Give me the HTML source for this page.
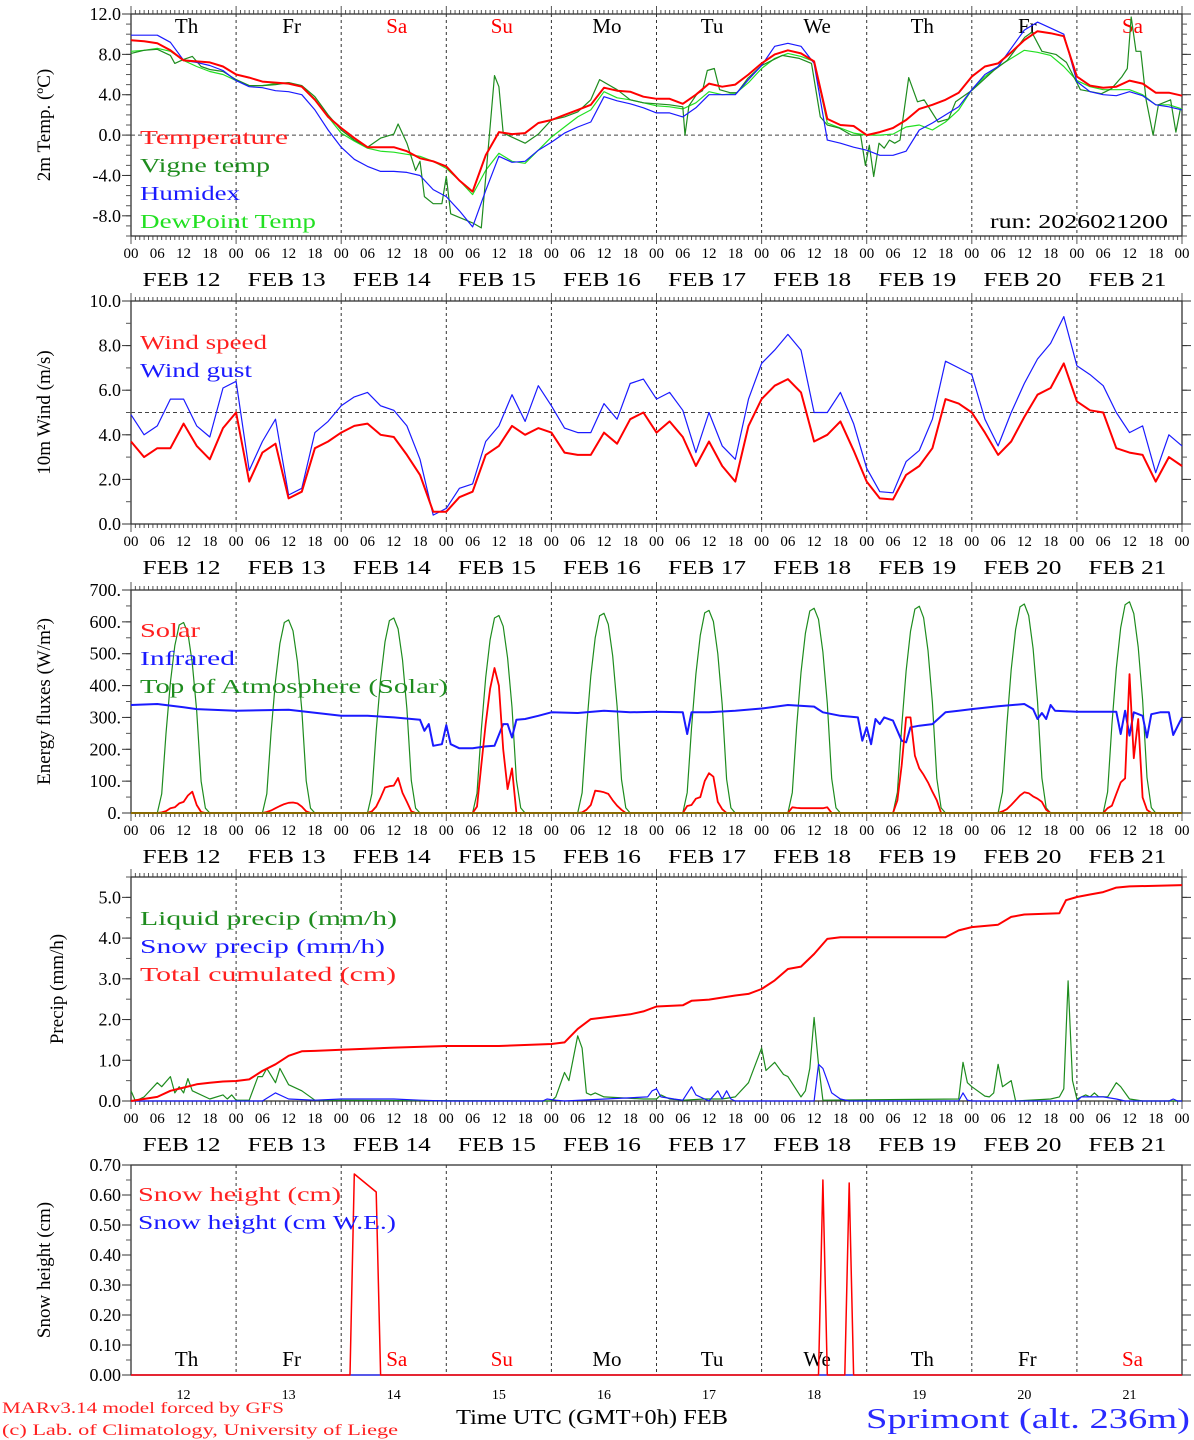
<!DOCTYPE html>
<html><head><meta charset="utf-8">
<style>
html,body{margin:0;padding:0;background:#fff;}
svg{display:block;font-family:"Liberation Serif","DejaVu Serif",serif;}
</style></head>
<body>
<svg id="chart" width="1194" height="1440" viewBox="0 0 1194 1440" xmlns="http://www.w3.org/2000/svg"></svg>
<script>
// ---------- DATA ----------
const dayNames = ["Th","Fr","Sa","Su","Mo","Tu","We","Th","Fr","Sa"];
const dayColors = ["#000","#000","#f00","#f00","#000","#000","#000","#000","#000","#f00"];
const dateLabels = ["FEB 12","FEB 13","FEB 14","FEB 15","FEB 16","FEB 17","FEB 18","FEB 19","FEB 20","FEB 21"];
const dayNums = ["12","13","14","15","16","17","18","19","20","21"];
const hourLabels = ["00","06","12","18"];

// Temperature panel (3-hourly from Feb 12 00 UTC)
const tempVals = [9.4,9.3,9.1,8.4,7.4,7.3,7.2,6.8, 6.0,5.7,5.3,5.2,5.1,4.8,3.5,1.8, 0.7,-0.3,-1.2,-1.2,-1.2,-1.6,-2.3,-2.6, -3.1,-4.5,-5.6,-2.0,0.3,0.1,0.2,1.2, 1.5,2.0,2.5,3.0,4.7,4.4,4.3,3.8, 3.6,3.6,3.1,4.0,5.1,4.8,5.0,6.0, 7.1,8.0,8.4,8.1,7.3,1.6,1.0,0.9, 0.0,0.3,0.7,1.5,2.6,3.0,3.5,4.2, 5.8,6.8,7.1,8.2,9.4,10.3,10.1,9.8, 5.8,4.9,4.7,4.8,5.4,5.1,4.2,4.2,3.9];
const humidexVals = [9.9,9.9,9.9,9.2,7.4,7.2,6.9,6.4, 5.4,4.8,4.7,4.4,4.3,4.0,2.5,0.5, -1.2,-2.4,-3.1,-3.6,-3.6,-3.7,-4.0,-5.4, -6.1,-7.5,-9.1,-5.5,-2.1,-2.7,-2.6,-1.5, -0.7,0.2,0.8,1.3,3.8,3.4,3.1,2.7, 2.2,2.2,1.8,2.7,4.0,4.0,4.0,5.5, 6.9,8.8,9.1,8.8,7.1,-0.5,-0.8,-1.2, -1.5,-2.0,-2.0,-1.6,0.5,1.2,2.0,2.8, 4.5,6.0,6.8,8.6,10.4,11.2,10.6,10.0, 5.3,4.3,4.0,3.9,4.3,3.9,3.0,2.8,2.5];
const dewVals = [8.3,8.4,8.6,8.3,7.4,6.8,6.3,6.0, 5.4,4.9,4.9,5.1,5.2,4.8,3.6,1.8, 0.2,-0.6,-1.3,-1.6,-1.7,-1.9,-2.1,-2.6, -3.3,-4.5,-5.9,-3.5,-1.8,-2.6,-2.8,-1.5, -0.2,0.8,1.8,2.5,4.3,3.7,3.5,3.2, 2.9,2.8,2.6,3.2,4.3,4.0,4.1,5.2, 6.6,7.6,8.1,7.8,7.3,1.2,0.7,0.2, 0.0,0.0,0.1,0.8,1.0,0.5,1.3,2.5, 4.5,5.8,6.8,7.6,8.4,8.2,7.9,6.8, 5.4,4.8,4.5,4.5,4.5,4.0,3.0,3.0,2.6];
const vigneHours = [0,3,6,9,10,12,14,16,18,21,24,27,30,33,36,39,42,45,48,51,54,57,60,61,63,65,66,67,69,71,72,73,78,80,82,83,84,85,90,93,96,99,102,105,107,111,114,117,120,123,126,126.5,127.4,129.3,130.5,131.6,133.2,134.4,136.8,138.4,140.8,144,148.7,152.6,155.4,157.4,159,161.7,164.5,166.6,167.7,168.6,169.6,170.8,172,173.2,174.4,175.6,177.6,179.6,181.1,184.3,186.7,188.3,192.2,197,200.1,204.1,205.7,208,211.2,213.6,216.8,221.6,223.9,226.3,227.5,228.4,229.5,230.6,231.8,233.4,234.6,237.4,238.6,239.6];
const vigneVals = [8.1,8.4,8.5,7.9,7.1,7.5,7.8,6.8,6.5,6.3,5.5,4.9,4.9,5.0,5.2,4.9,3.8,2.0,0.5,-0.5,-1.2,-0.3,0.1,1.1,-0.8,-3.5,-2.6,-6.1,-6.8,-6.8,-4.1,-7.8,-8.7,-9.2,0.8,5.9,4.8,0.2,-0.8,0.1,1.5,1.8,2.3,3.5,5.5,4.5,3.5,3.2,3.1,3.0,2.8,0.0,2.9,4.1,4.4,6.4,6.6,4.5,4.2,4.2,5.6,6.9,7.9,7.6,7.1,1.8,1.0,0.7,0.0,0.0,-3.0,-1.0,-4.1,-0.8,-1.3,-0.5,-0.8,-0.5,5.7,3.3,3.5,1.3,1.6,3.3,4.5,6.4,7.4,9.7,10.2,8.3,8.0,7.2,4.5,4.1,4.6,5.8,6.6,11.7,8.3,8.3,3.5,0.0,3.0,3.5,0.3,2.5];

// Wind panel (3-hourly)
const windSpeed = [3.7,3.0,3.4,3.4,4.5,3.5,2.9,4.3, 5.0,1.9,3.2,3.6,1.15,1.45,3.4,3.7, 4.1,4.4,4.5,4.0,3.9,3.1,2.2,0.55, 0.55,1.2,1.45,3.1,3.5,4.4,4.0,4.3, 4.1,3.2,3.1,3.1,4.1,3.6,4.7,5.0, 4.1,4.6,3.9,2.6,3.7,2.6,1.9,4.4, 5.6,6.2,6.5,5.9,3.7,4.0,4.6,3.3, 1.9,1.15,1.1,2.2,2.6,3.4,5.6,5.4, 5.0,4.1,3.1,3.7,4.8,5.8,6.1,7.2, 5.5,5.1,5.0,3.4,3.2,3.1,1.9,3.0,2.6];
const windGust = [4.9,4.0,4.4,5.6,5.6,4.4,3.9,6.1, 6.4,2.4,3.7,4.7,1.3,1.6,4.1,4.6, 5.3,5.7,5.9,5.3,5.1,4.4,2.9,0.4, 0.7,1.6,1.8,3.7,4.4,5.8,4.6,6.2, 5.3,4.3,4.1,4.1,5.4,4.7,6.3,6.5, 5.6,5.9,5.1,3.2,5.0,3.5,2.9,5.6, 7.2,7.8,8.5,7.8,5.0,5.0,5.9,4.5, 2.5,1.45,1.4,2.8,3.3,4.7,7.3,7.0, 6.7,4.7,3.5,5.0,6.3,7.4,8.1,9.3, 7.1,6.7,6.2,5.0,4.1,4.4,2.3,4.0,3.5];

// Energy panel: daily values at hours 06..18
const toaByDay = [
 [0,60,250,410,525,590,598,565,470,320,100,15,0],
 [0,60,255,415,532,598,606,572,476,324,101,15,0],
 [0,61,257,420,537,604,612,578,481,327,102,15,0],
 [0,62,260,425,544,612,620,586,487,332,104,16,0],
 [0,63,262,430,550,619,627,592,493,335,105,16,0],
 [0,64,266,436,558,628,636,601,500,340,106,16,0],
 [0,64,269,441,564,634,643,608,505,344,108,16,0],
 [0,65,271,445,570,640,649,613,510,347,109,16,0],
 [0,66,274,450,576,647,656,620,516,351,110,16,0],
 [0,66,277,454,582,654,663,626,521,355,111,17,0]];
const solarByDay = [
 [0,2,6,15,18,30,35,55,67,25,3,0,0],
 [0,3,8,15,22,28,32,33,30,20,5,0,0],
 [0,5,20,48,80,84,86,110,63,35,5,0,0],
 [0,20,150,280,390,455,400,200,75,140,0,0,0],
 [0,2,10,25,70,68,65,60,40,23,10,0,0],
 [0,22,25,45,50,100,125,114,35,12,0,0,0],
 [0,18,16,15,15,15,15,15,15,18,0,0,0],
 [0,40,150,300,300,180,140,120,96,67,40,0,0],
 [0,5,12,25,40,55,65,62,52,45,35,10,0],
 [0,15,23,60,96,109,436,172,295,49,10,0,0]];
const irHours = [0,6,12,15,24,36,48,54,60,66,67,68,69,71,72,73,75,78,81,83,85,86,87,88,90,93,96,102,108,114,120,126,127,128,132,138,144,150,156,158,162,166,167,168,169,170,171,172,174,176,177,178,180,183,186,189,192,198,204,206,207,208,209,210,211,216,222,225,226,227,228,229,231,232,233,235,237,238,240];
const irVals = [339,342,332,326,321,324,305,305,300,293,258,279,211,216,276,216,203,203,209,211,279,279,237,293,295,305,316,314,321,316,318,316,248,316,316,321,328,339,334,316,305,300,227,269,216,295,279,300,290,227,222,269,274,279,316,321,326,335,342,326,295,314,295,339,321,318,318,318,248,321,243,316,305,237,310,316,316,245,300];

// Precip panel
const liqHours = [0,1,3,6,7,9,10,11,12,13,14,18,21,22,23,24,27,29,30,31,33,34,36,39,42,96,97,99,100,102,103,104,105,106,108,117,120,121,123,126,131,135,138,141,144,145,147,149,150,153,154,155,156,157,158,189,190,191,192,195,196,197,198,199,201,202,210,212,213,214,215,216,218,219,220,221,223,225,226,228,231,240];
const liqVals = [0.25,0,0.1,0.45,0.35,0.6,0.2,0.35,0.2,0.55,0.25,0.05,0.15,0.05,0.15,0.02,0.02,0.6,0.6,0.8,0.45,0.8,0.4,0.25,0.02,0,0.1,0.7,0.5,1.6,1.3,0.2,0.15,0.2,0.1,0.05,0.05,0.15,0.05,0.02,0.05,0.05,0.1,0.45,1.3,0.75,0.95,0.65,0.6,0.1,0.25,0.8,2.05,0.9,0.02,0.05,0.95,0.45,0.35,0.12,0.1,0.2,0.9,0.35,0.5,0,0.05,0.1,0.3,2.95,0.5,0.05,0.15,0.1,0.2,0.1,0.1,0.45,0.35,0.05,0,0];
const snowPrHours = [0,30,33,36,42,48,60,66,72,94,95,97,99,118,119,120,121,124,126,128,129,132,134,135,136,137,138,156,157,158,159,160,162,164,189,190,191,192,216,217,219,222,225,227,237,238,239,240];
const snowPrVals = [0,0,0.2,0.05,0.02,0.05,0.05,0.02,0,0,0.05,0.02,0,0.1,0.25,0.3,0.1,0.05,0.02,0.35,0.15,0,0.25,0.05,0.25,0.05,0,0,0.9,0.8,0.5,0.2,0.05,0,0,0.2,0.02,0,0,0.1,0.1,0.1,0.05,0,0,0.05,0,0];
const cumHours = [0,6,9,12,15,18,21,24,27,30,33,36,39,42,48,60,72,84,96,99,102,105,108,114,117,120,126,128,132,138,141,144,147,150,153,156,159,162,186,189,192,198,201,204,212,213.5,216,219,222,225,228,240];
const cumVals = [0,0.1,0.25,0.33,0.41,0.45,0.48,0.49,0.53,0.74,0.9,1.11,1.22,1.23,1.26,1.31,1.35,1.35,1.40,1.44,1.77,2.01,2.05,2.13,2.2,2.32,2.35,2.46,2.49,2.59,2.63,2.75,2.96,3.24,3.30,3.61,3.98,4.02,4.02,4.19,4.27,4.33,4.52,4.58,4.61,4.93,5.01,5.07,5.13,5.24,5.27,5.3];

// Snow height panel
const snowHtHours = [0,50,51,56,57,157,158,159,163,164,165,240];
const snowHtVals = [0,0,0.67,0.61,0,0,0.65,0,0,0.64,0,0];
const snowWeHours = [0,240];
const snowWeVals = [0,0];

const t1Labels = ["12.0","8.0","4.0","0.0","-4.0","-8.0"];
const t1Vals = [12,8,4,0,-4,-8];
const t2Labels = ["0.0","2.0","4.0","6.0","8.0","10.0"];
const t2Vals = [0,2,4,6,8,10];
const t3Labels = ["0.","100.","200.","300.","400.","500.","600.","700."];
const t3Vals = [0,100,200,300,400,500,600,700];
const t4Labels = ["0.0","1.0","2.0","3.0","4.0","5.0"];
const t4Vals = [0,1,2,3,4,5];
const t5Labels = ["0.00","0.10","0.20","0.30","0.40","0.50","0.60","0.70"];
const t5Vals = [0,0.1,0.2,0.3,0.4,0.5,0.6,0.7];

// ---------- DRAWING ----------
const svg = document.getElementById('chart');
const NS = "http://www.w3.org/2000/svg";
const X0 = 131, X1 = 1182;
function xh(h){ return X0 + h*(X1-X0)/240; }
function mk(tag, attrs, parent){
  const e = document.createElementNS(NS, tag);
  for (const k in attrs) e.setAttribute(k, attrs[k]);
  (parent||svg).appendChild(e);
  return e;
}
function txt(s, x, y, size, color, anchor, parent, tl){
  const t = mk('text', {x:x, y:y, 'font-size':size, fill:color||'#000', 'text-anchor':anchor||'start'}, parent);
  if (tl) { t.setAttribute('textLength', tl); t.setAttribute('lengthAdjust','spacingAndGlyphs'); }
  t.textContent = s;
  return t;
}
function panel(name, top, bot, vmin, vmax){
  const g = mk('g', {});
  
  
  const ys = v => bot - (v - vmin) * (bot - top) / (vmax - vmin);
  return {g, ys, top, bot};
}
function frame(p, hourTicks){
  const g = p.g;
  // day dashed lines
  for (let d=1; d<10; d++){
    const l = mk('line', {x1:xh(d*24), x2:xh(d*24), y1:p.top, y2:p.bot, stroke:'#333', 'stroke-width':1, 'stroke-dasharray':'3,3'}, g);
    
    
  }
  if (hourTicks){
    for (let h=0; h<=240; h++){
      const len = (h%24===0) ? 8 : 4;
      mk('line', {x1:xh(h), x2:xh(h), y1:p.top-len, y2:p.top, stroke:'#555', 'stroke-width':1}, g);
      mk('line', {x1:xh(h), x2:xh(h), y1:p.bot, y2:p.bot+len, stroke:'#555', 'stroke-width':1}, g);
    }
  }
  const r = mk('rect', {x:X0, y:p.top, width:X1-X0, height:p.bot-p.top, fill:'none', stroke:'#333', 'stroke-width':1.3}, g);
  
  
}
function yaxis(p, vals, labels, minorStep, vmin, vmax, title, titleX, size){
  const g = p.g;
  for (let v=vmin; v<=vmax+1e-9; v+=minorStep){
    const y = p.ys(v);
    mk('line', {x1:X0-5, x2:X0, y1:y, y2:y, stroke:'#555'}, g);
    mk('line', {x1:X1, x2:X1+5, y1:y, y2:y, stroke:'#555'}, g);
  }
  vals.forEach((v,i)=>{
    const y = p.ys(v);
    mk('line', {x1:X0-9, x2:X0, y1:y, y2:y, stroke:'#333'}, g);
    mk('line', {x1:X1, x2:X1+9, y1:y, y2:y, stroke:'#333'}, g);
    const t = txt(labels[i], X0-10, y+6, size||18, '#000', 'end', g);
    
    
  });
  const cy = (p.top + p.bot)/2;
  const tt = txt(title, 0, 0, 19, '#000', 'middle', g);
  tt.setAttribute('transform', `translate(${titleX},${cy}) rotate(-90)`);
  
  
}
function xlabels(p){
  const g = p.g;
  for (let d=0; d<=10; d++){
    for (let k=0; k<4; k++){
      if (d===10 && k>0) break;
      const t = txt(hourLabels[k], xh(d*24+k*6), p.bot+22, 15, '#000', 'middle', g);
      
      
    }
  }
  for (let d=0; d<10; d++){
    const t = txt(dateLabels[d], xh(d*24+12)-2, p.bot+50, 20, '#000', 'middle', g, 78);
    
    
  }
}
function series(p, hours, vals, color, w, name){
  const pts = hours.map((h,i)=> xh(h).toFixed(1)+','+p.ys(vals[i]).toFixed(1)).join(' ');
  const pl = mk('polyline', {points:pts, fill:'none', stroke:color, 'stroke-width':w, 'stroke-linejoin':'round'}, p.g);
  
  
  return pl;
}
function legend(p, items, x, y0, dy){
  items.forEach((it,i)=>{
    const t = txt(it[0], x, y0+i*dy, 20, it[1], 'start', p.g, it[2]);
    
    
  });
}
function hline(p, v, name){
  const l = mk('line', {x1:X0, x2:X1, y1:p.ys(v), y2:p.ys(v), stroke:'#444', 'stroke-dasharray':'4,3'}, p.g);
  
  
}
const grid3 = []; for (let h=0; h<=240; h+=3) grid3.push(h);
function dailyHours(){ const a=[]; for(let d=0; d<10; d++) for(let k=0;k<13;k++) a.push(d*24+6+k); return a; }
function flatten(rows){ const a=[]; rows.forEach(r=>r.forEach(v=>a.push(v))); return a; }
function dayNameRow(p, y){
  for (let d=0; d<10; d++){
    const t = txt(dayNames[d], xh(d*24+12)+3, y, 21, dayColors[d], 'middle', p.g);
    
    
  }
}

// Panel 1: temperature
const p1 = panel('temperature-panel', 14, 236, -10, 12);
frame(p1, true);
hline(p1, 0, 'zero-line');
yaxis(p1, t1Vals, t1Labels, 1, -10, 12, '2m Temp. (ºC)', 50);
dayNameRow(p1, 33);
series(p1, grid3, dewVals, '#22e022', 1.2, 'dewpoint-line');
series(p1, vigneHours, vigneVals, '#1e8c1e', 1.2, 'vigne-temp-line');
series(p1, grid3, humidexVals, '#1a1aff', 1.2, 'humidex-line');
series(p1, grid3, tempVals, '#ff0000', 2, 'temperature-line');
legend(p1, [['Temperature','#ff2020',148],['Vigne temp','#1e8c1e',130],['Humidex','#1a1aff',100],['DewPoint Temp','#22e022',176]], 140, 144, 28);
{ const t = txt('run: 2026021200', 1168, 228, 20, '#000', 'end', p1.g, 178);   }
xlabels(p1);

// Panel 2: wind
const p2 = panel('wind-panel', 301, 524, 0, 10);
frame(p2, true);
hline(p2, 5, 'five-ms-line');
yaxis(p2, t2Vals, t2Labels, 1, 0, 10, '10m Wind (m/s)', 50);
series(p2, grid3, windGust, '#1a1aff', 1.2, 'wind-gust-line');
series(p2, grid3, windSpeed, '#ff0000', 2, 'wind-speed-line');
legend(p2, [['Wind speed','#ff2020',127],['Wind gust','#1a1aff',112]], 140, 349, 28);
xlabels(p2);

// Panel 3: energy
const p3 = panel('energy-panel', 590, 813, 0, 700);
frame(p3, true);
yaxis(p3, t3Vals, t3Labels, 50, 0, 700, 'Energy fluxes (W/m²)', 50);
const dh = dailyHours();
series(p3, dh, flatten(toaByDay), '#1e8c1e', 1.2, 'toa-solar-line');
series(p3, irHours, irVals, '#1a1aff', 2, 'infrared-line');
series(p3, dh, flatten(solarByDay), '#ff0000', 1.8, 'solar-line');
mk('line', {x1:X0, x2:X1, y1:813, y2:813, stroke:'#8a6a00', 'stroke-width':2}, p3.g);
legend(p3, [['Solar','#ff2020',60],['Infrared','#1a1aff',95],['Top of Atmosphere (Solar)','#1e8c1e',308]], 140, 637, 28);
xlabels(p3);

// Panel 4: precip
const p4 = panel('precip-panel', 877, 1101, 0, 5.5);
frame(p4, true);
yaxis(p4, t4Vals, t4Labels, 0.5, 0, 5.5, 'Precip (mm/h)', 63);
series(p4, liqHours, liqVals, '#1e8c1e', 1.2, 'liquid-precip-line');
series(p4, snowPrHours, snowPrVals, '#1a1aff', 1.2, 'snow-precip-line');
series(p4, cumHours, cumVals, '#ff0000', 2, 'total-cumulated-line');
legend(p4, [['Liquid precip (mm/h)','#1e8c1e',257],['Snow precip (mm/h)','#1a1aff',245],['Total cumulated (cm)','#ff2020',256]], 140, 925, 28);
xlabels(p4);

// Panel 5: snow height
const p5 = panel('snow-panel', 1165, 1375, 0, 0.7);
frame(p5, false);
yaxis(p5, t5Vals, t5Labels, 0.05, 0, 0.7, 'Snow height (cm)', 50);
dayNameRow(p5, 1366);
series(p5, snowWeHours, snowWeVals, '#1a1aff', 1.2, 'snow-we-line');
series(p5, snowHtHours, snowHtVals, '#ff0000', 1.5, 'snow-height-line');
legend(p5, [['Snow height (cm)','#ff2020',203],['Snow height (cm W.E.)','#1a1aff',258]], 138, 1201, 28);
for (let d=0; d<10; d++){
  const t = txt(dayNums[d], xh(d*24+12), 1399, 14, '#000', 'middle', p5.g);
  
  
}

// Footer
{ const t = txt('Time UTC (GMT+0h) FEB', 456, 1424, 21, '#000', 'start', svg, 272);   }
{ const t = txt('MARv3.14 model forced by GFS', 2, 1413, 16, '#ff2020', 'start', svg, 282);   }
{ const t = txt('(c) Lab. of Climatology, University of Liege', 2, 1435, 16, '#ff2020', 'start', svg, 396);   }
{ const t = txt('Sprimont (alt. 236m)', 866, 1428, 29, '#2a2aff', 'start', svg, 324);   }
</script>
</body></html>
